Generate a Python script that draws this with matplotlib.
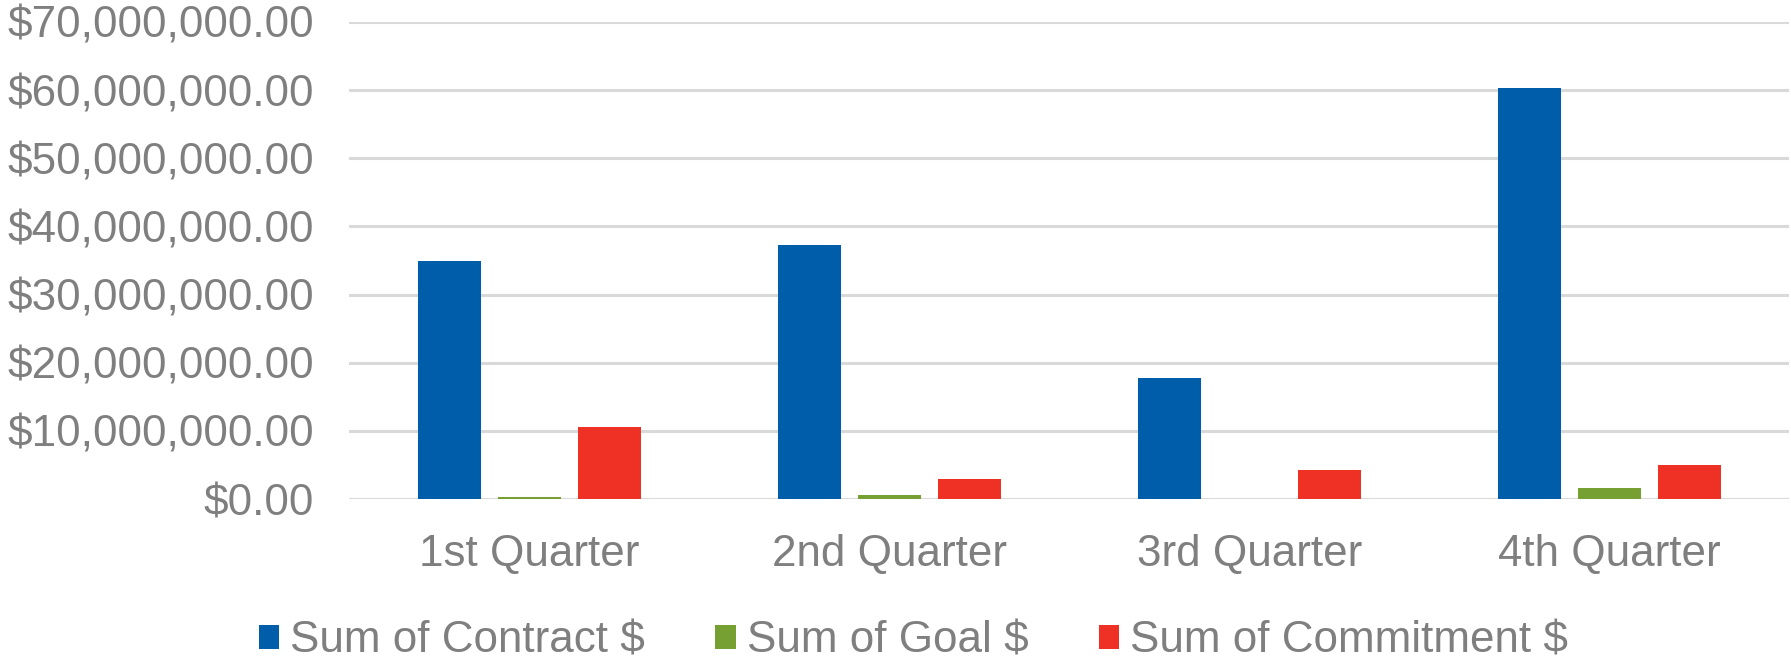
import numpy as np
import matplotlib.pyplot as plt
from matplotlib.ticker import FuncFormatter

quarters = ['1st Quarter', '2nd Quarter', '3rd Quarter', '4th Quarter']
contract = [35.0e6, 37.3e6, 17.7e6, 60.3e6]
goal = [0.35e6, 0.6e6, 0.0, 1.65e6]
commitment = [10.6e6, 2.9e6, 4.2e6, 5.0e6]

series_names = ['Sum of Contract $', 'Sum of Goal $', 'Sum of Commitment $']
colors = ['#005DAA', '#76A032', '#EE3124']

plt.rcParams['font.family'] = ['Liberation Sans', 'DejaVu Sans']
text_color = '#7f7f7f'

fig = plt.figure(figsize=(17.91, 6.58), dpi=100)
ax = fig.add_axes([0.195, 0.2416, 0.804, 0.725])

x = np.arange(len(quarters))
width = 0.175
step = 0.222
for i, (vals, name, c) in enumerate(zip([contract, goal, commitment], series_names, colors)):
    ax.bar(x + (i - 1) * step, vals, width, color=c, label=name, zorder=3)

ax.set_xlim(-0.5, 3.5)
ax.set_ylim(0, 70e6)
ax.set_yticks(np.arange(0, 70e6 + 1, 10e6))
ax.yaxis.set_major_formatter(FuncFormatter(lambda v, p: '${:,.2f}'.format(v)))
ax.set_xticks(x)
ax.set_xticklabels(quarters)

ax.grid(axis='y', color='#d9d9d9', linewidth=2.2, zorder=0)
for s in ax.spines.values():
    s.set_visible(False)
ax.tick_params(axis='both', length=0, labelsize=31.7, labelcolor=text_color)
ax.tick_params(axis='y', pad=25.5)
ax.tick_params(axis='x', pad=25)

fig.legend(loc='center', bbox_to_anchor=(0.51, 0.026), ncol=3, frameon=False,
           fontsize=31.7, labelcolor=text_color, handlelength=0.46, handleheight=0.46,
           handletextpad=0.25, columnspacing=1.6, borderaxespad=0)

fig.savefig('out.png', dpi=100)
